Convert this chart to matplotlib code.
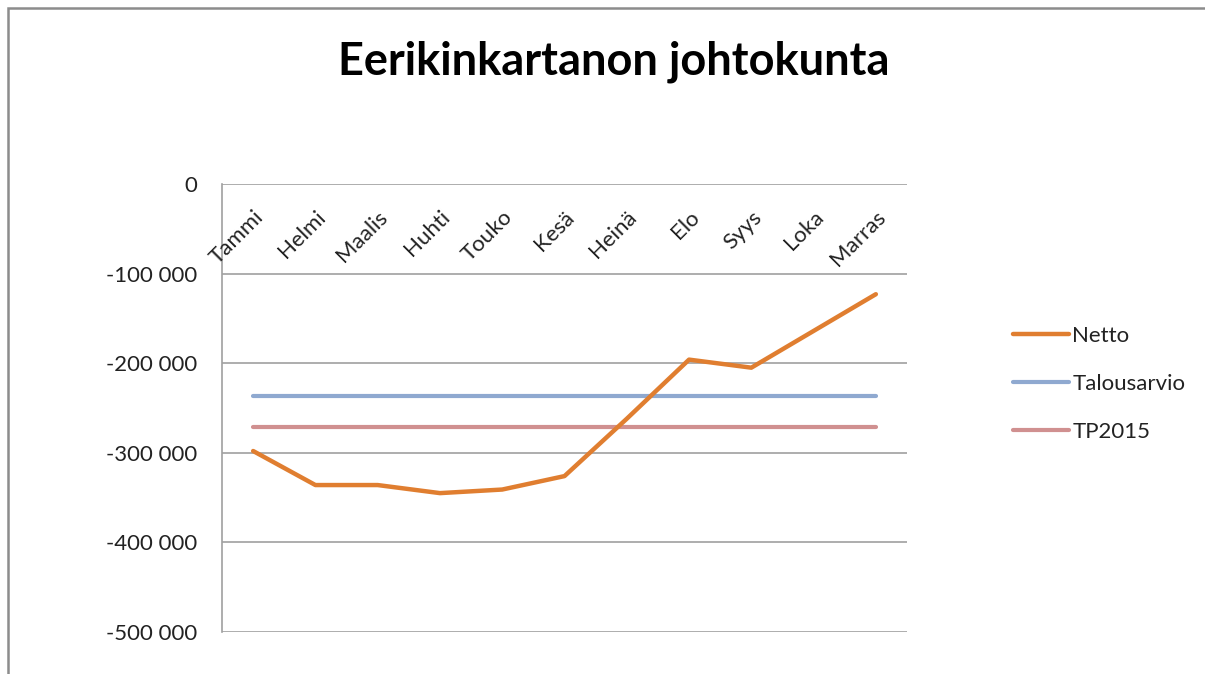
#! /usr/bin/env python3

"""Eerikinkartanon johtokunta: monthly net vs budget and TP2015."""

import matplotlib
matplotlib.use('Agg')
import matplotlib.pyplot as plt
from matplotlib.patches import Rectangle
from matplotlib.ticker import FuncFormatter
import matplotlib.transforms as mtransforms

months = ['Tammi', 'Helmi', 'Maalis', 'Huhti', 'Touko', 'Kesä',
          'Heinä', 'Elo', 'Syys', 'Loka', 'Marras']
netto = [-298000, -336000, -336000, -345000, -341000, -326000,
         -262000, -196000, -205000, -164000, -123000]
talousarvio = [-236500] * len(months)
tp2015 = [-271000] * len(months)
yticks = [0, -100000, -200000, -300000, -400000, -500000]

FONT = ['Lato', 'DejaVu Sans']


def fmt(v, pos):
    """Format with a space as thousands separator."""
    return '{:,.0f}'.format(v).replace(',', ' ')


def main():
    """Plot and save the chart."""
    plt.rcParams['font.family'] = FONT
    fig = plt.figure(figsize=(12.05, 6.74), dpi=100)
    ax = fig.add_axes([222 / 1205, 1 - 632 / 674,
                       685 / 1205, 448 / 674])

    # outer chart frame
    fig.patches.append(Rectangle((8 / 1205, -0.1), 1.2, 1 - 8 / 674 + 0.1,
                                 transform=fig.transFigure, fill=False,
                                 edgecolor='#8c8c8c', linewidth=1.8))

    x = range(len(months))
    ax.plot(x, netto, color='#E07E30', linewidth=3.2,
            solid_capstyle='round', solid_joinstyle='round',
            label='Netto', zorder=4)
    ax.plot(x, talousarvio, color='#8FA9D0', linewidth=3.0,
            solid_capstyle='round', label='Talousarvio', zorder=3)
    ax.plot(x, tp2015, color='#D09090', linewidth=3.0,
            solid_capstyle='round', label='TP2015', zorder=3)

    ax.set_xlim(-0.5, len(months) - 0.5)
    ax.set_ylim(-500000, 0)
    ax.set_yticks(yticks)
    ax.yaxis.set_major_formatter(FuncFormatter(fmt))
    ax.tick_params(axis='y', length=0, pad=18, labelsize=16,
                   labelcolor='#222222')
    ax.set_xticks([])
    ax.grid(axis='y', color='#a0a0a0', linewidth=1.2)
    ax.set_axisbelow(True)

    for side in ['right', 'bottom', 'top']:
        ax.spines[side].set_visible(False)
    ax.spines['left'].set_color('#a0a0a0')
    ax.spines['left'].set_linewidth(1.2)

    # category labels sit just below the zero line
    offset = mtransforms.offset_copy(ax.transData, fig=fig,
                                     x=7, y=-30, units='dots')
    for i, label in enumerate(months):
        ax.text(i, 0, label, transform=offset, rotation=45,
                rotation_mode='anchor', ha='right', va='center',
                fontsize=16, color='#222222')

    fig.text(614 / 1205, 1 - 62 / 674, 'Eerikinkartanon johtokunta',
             ha='center', va='center', fontsize=32.5, fontweight='bold')

    leg = ax.legend(loc='center left', bbox_to_anchor=(1.126, 0.5536),
                    frameon=False, fontsize=16, handlelength=2.5,
                    handletextpad=0.15, labelspacing=1.25)
    for t in leg.get_texts():
        t.set_color('#222222')

    fig.savefig('out.png', dpi=100)


if __name__ == "__main__":
    main()
